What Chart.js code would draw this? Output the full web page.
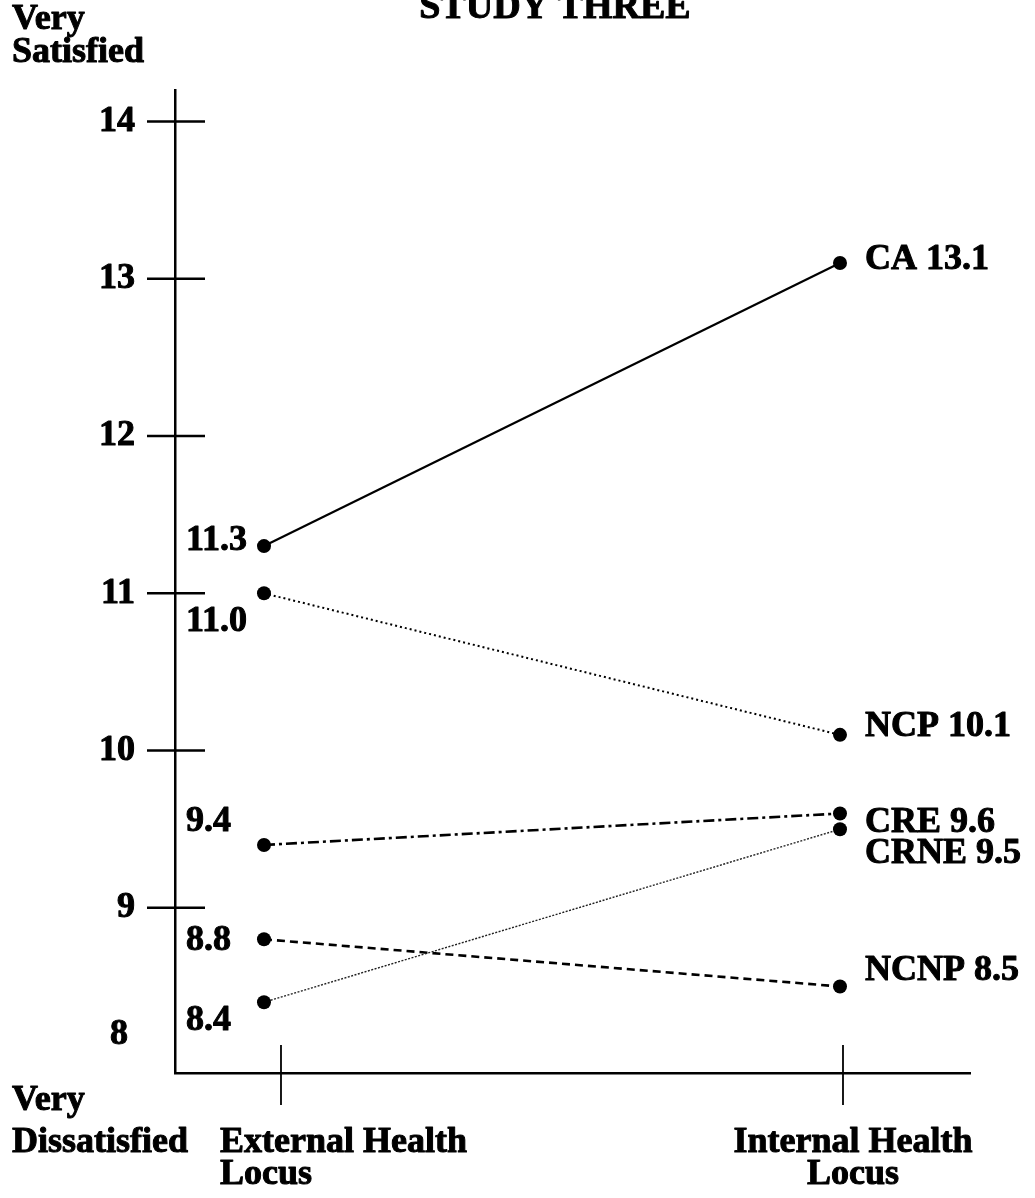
<!DOCTYPE html>
<html>
<head>
<meta charset="utf-8">
<script src="https://cdn.jsdelivr.net/npm/chart.js@4"></script>
<style>
  body { margin: 0; background: #fff; }
  canvas { display: block; }
</style>
</head>
<body>
<canvas id="studyChart" width="1035" height="1198"></canvas>
<script>
// Values
const groups = ['CA', 'NCP', 'CRE', 'CRNE', 'NCNP'];
const externalScores = [11.3, 11.0, 9.4, 8.4, 8.8];
const internalScores = [13.1, 10.1, 9.6, 9.5, 8.5];
const locusLabels = [['External Health', 'Locus'], ['Internal Health', 'Locus']];
const yTicks = [8, 9, 10, 11, 12, 13, 14];

// line look for each group
const dashes = [[], [2, 3], [11, 4, 3, 4], [2, 1.5], [8, 5]];
const widths = [2.2, 2, 2.6, 1.4, 2.6];
// nudges so the hand-set value labels sit as in the print
const leftNudge = [-5, 28, -23, 18, 1];
const rightNudge = [-3, -8, 9, 24, -16];

const FONT = 'bold 36px "Liberation Serif", "Times New Roman", serif';

document.addEventListener('DOMContentLoaded', function() {
    const ctx = document.getElementById('studyChart').getContext('2d');

    const datasets = groups.map((g, i) => ({
        label: g,
        data: [{ x: 0, y: externalScores[i] }, { x: 1, y: internalScores[i] }],
        borderColor: i === 3 ? '#222' : '#000',
        borderWidth: widths[i],
        borderDash: dashes[i],
        pointRadius: 7,
        pointBackgroundColor: '#000',
        pointBorderWidth: 0,
        fill: false,
        clip: false
    }));

    // heavy print look: fill and a thin outline
    function heavyText(c, txt, x, y) {
        c.fillText(txt, x, y);
        c.strokeText(txt, x, y);
    }

    // text and hand-drawn tick marks
    const annotations = {
        id: 'annotations',
        afterDraw(chart) {
            const c = chart.ctx;
            const xs = chart.scales.x;
            const ys = chart.scales.y;
            const area = chart.chartArea;
            c.save();
            c.fillStyle = '#000';
            c.strokeStyle = '#000';
            c.font = FONT;

            // y tick marks crossing the axis
            c.lineWidth = 2.5;
            yTicks.forEach(v => {
                if (v === 8) return;
                const py = ys.getPixelForValue(v);
                c.beginPath();
                c.moveTo(area.left - 28, py);
                c.lineTo(area.left + 30, py);
                c.stroke();
            });

            // x tick marks crossing the axis
            c.lineWidth = 1.8;
            [[0, 17], [1, 3]].forEach(([v, dx]) => {
                const px = xs.getPixelForValue(v) + dx;
                c.beginPath();
                c.moveTo(px, area.bottom - 28);
                c.lineTo(px, area.bottom + 32);
                c.stroke();
            });

            c.lineWidth = 1;
            c.lineJoin = 'round';

            // y tick labels
            c.textAlign = 'right';
            c.textBaseline = 'middle';
            yTicks.forEach(v => {
                const py = v === 8 ? ys.getPixelForValue(8) - 30 : ys.getPixelForValue(v);
                const px = v === 8 ? area.left - 47 : area.left - 40;
                heavyText(c, String(v), px, py);
            });

            // value labels at the external end
            c.textAlign = 'left';
            groups.forEach((g, i) => {
                const py = ys.getPixelForValue(externalScores[i]) + leftNudge[i];
                heavyText(c, externalScores[i].toFixed(1), area.left + 11, py);
            });

            // group labels at the internal end
            groups.forEach((g, i) => {
                const px = xs.getPixelForValue(1) + 25;
                const py = ys.getPixelForValue(internalScores[i]) + rightNudge[i];
                heavyText(c, g + ' ' + internalScores[i].toFixed(1), px, py);
            });

            // x category labels
            c.textBaseline = 'alphabetic';
            const ext = xs.getPixelForValue(0) - 44;
            c.textAlign = 'left';
            heavyText(c, locusLabels[0][0], ext, 1152);
            heavyText(c, locusLabels[0][1], ext, 1184);
            const int = xs.getPixelForValue(1) + 13;
            c.textAlign = 'center';
            heavyText(c, locusLabels[1][0], int, 1152);
            heavyText(c, locusLabels[1][1], int, 1184);

            // end labels of the scale
            c.textAlign = 'left';
            heavyText(c, 'Very', 12, 29);
            heavyText(c, 'Satisfied', 12, 62);
            heavyText(c, 'Very', 12, 1110);
            heavyText(c, 'Dissatisfied', 12, 1152);

            // title, cut off at the top of the scan
            c.font = 'bold 38px "Liberation Serif", "Times New Roman", serif';
            c.textAlign = 'center';
            heavyText(c, 'STUDY THREE', 555, 18);
            c.restore();
        }
    };

    new Chart(ctx, {
        type: 'line',
        data: { datasets: datasets },
        options: {
            responsive: false,
            animation: false,
            layout: { padding: { top: 90, right: 65, bottom: 125, left: 0 } },
            plugins: {
                legend: { display: false },
                tooltip: { enabled: false }
            },
            scales: {
                x: {
                    type: 'linear',
                    min: -0.1545,
                    max: 1.2257,
                    grid: { display: false, drawTicks: false },
                    ticks: { display: false },
                    border: { color: '#000', width: 2.5 },
                    afterFit: s => { s.height = 0; }
                },
                y: {
                    min: 7.95,
                    max: 14.2,
                    afterBuildTicks: s => { s.ticks = yTicks.map(v => ({ value: v })); },
                    ticks: { display: false },
                    grid: { display: false, drawTicks: false },
                    border: { color: '#000', width: 2.5 },
                    afterFit: s => { s.width = 175; }
                }
            }
        },
        plugins: [annotations]
    });
});
</script>
</body>
</html>
